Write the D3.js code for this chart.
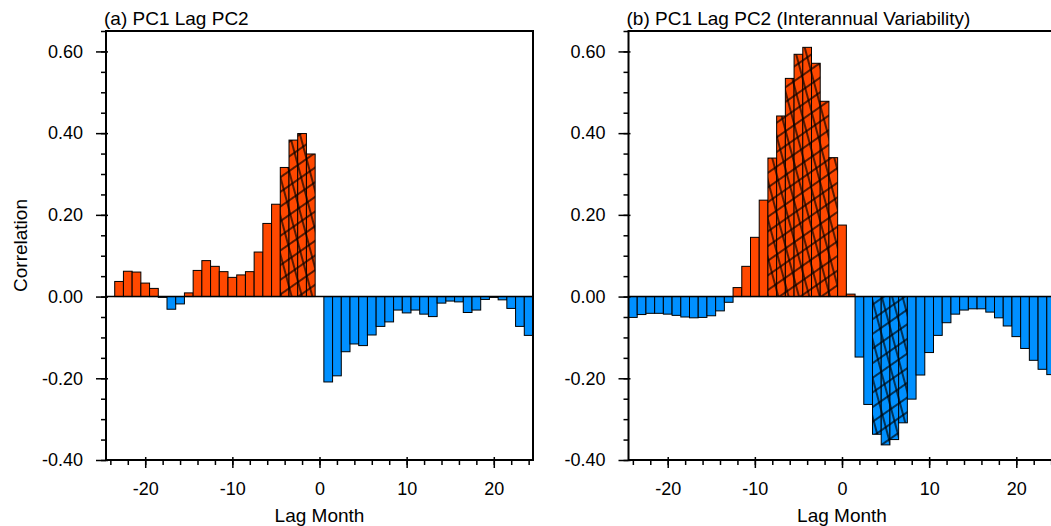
<!DOCTYPE html>
<html><head><meta charset="utf-8">
<script src="https://cdn.jsdelivr.net/npm/d3@7"></script>
<style>
body{margin:0;background:#fff}
svg{display:block}
text{font-family:"Liberation Sans",Arial,Helvetica,sans-serif;fill:#000}
</style>
</head><body>
<svg id="c" width="1051" height="526"></svg>
<script>
// ---- data ----
const lags = [-24,-23,-22,-21,-20,-19,-18,-17,-16,-15,-14,-13,-12,-11,-10,-9,-8,-7,-6,-5,-4,-3,-2,-1,0,
              1,2,3,4,5,6,7,8,9,10,11,12,13,14,15,16,17,18,19,20,21,22,23,24];
const corrA = [0.000,0.037,0.062,0.060,0.033,0.020,-0.002,-0.031,-0.018,0.009,0.064,0.088,0.074,0.061,0.047,0.053,0.061,0.109,0.179,0.226,0.316,0.383,0.399,0.349,0.000,
               -0.209,-0.194,-0.135,-0.116,-0.120,-0.094,-0.073,-0.062,-0.033,-0.040,-0.033,-0.043,-0.049,-0.016,-0.011,-0.013,-0.039,-0.033,-0.007,-0.002,-0.008,-0.029,-0.073,-0.095];
const corrB = [-0.051,-0.044,-0.041,-0.041,-0.043,-0.046,-0.050,-0.052,-0.051,-0.047,-0.035,-0.014,0.022,0.074,0.145,0.236,0.339,0.442,0.534,0.593,0.610,0.571,0.478,0.340,0.175,
               0.006,-0.148,-0.264,-0.337,-0.363,-0.350,-0.309,-0.251,-0.192,-0.137,-0.095,-0.064,-0.043,-0.033,-0.030,-0.030,-0.038,-0.052,-0.072,-0.098,-0.127,-0.156,-0.178,-0.191];
const sigLagsA = [-4,-3,-2,-1];
const sigLagsB = [-8,-7,-6,-5,-4,-3,-2,-1,4,5,6,7];
const yMajorTicks = [-0.4,-0.2,0.0,0.2,0.4,0.6];
const yMinorTicks = [-0.4,-0.35,-0.3,-0.25,-0.2,-0.15,-0.1,-0.05,0,0.05,0.1,0.15,0.2,0.25,0.3,0.35,0.4,0.45,0.5,0.55,0.6,0.65];
const xMajorTicks = [-20,-10,0,10,20];
const xMinorTicks = [-24,-22,-20,-18,-16,-14,-12,-10,-8,-6,-4,-2,0,2,4,6,8,10,12,14,16,18,20,22,24];
const titles = ["(a) PC1 Lag PC2","(b) PC1 Lag PC2 (Interannual Variability)"];
const yLabel = "Correlation";
const xLabel = "Lag Month";

const posColor = "#ff4800", negColor = "#0090ff";

const svg = d3.select("#c");
const defs = svg.append("defs");
function hatch(id, angle, spacing, vertical){
  const p = defs.append("pattern").attr("id",id).attr("patternUnits","userSpaceOnUse")
    .attr("width",spacing).attr("height",spacing)
    .attr("patternTransform",`rotate(${angle})`);
  if(vertical) p.append("line").attr("x1",spacing/2).attr("x2",spacing/2).attr("y1",0).attr("y2",spacing);
  else p.append("line").attr("y1",spacing/2).attr("y2",spacing/2).attr("x1",0).attr("x2",spacing);
  p.select("line").attr("stroke","#000").attr("stroke-width",1.3);
}
hatch("hA",-15,10,true);
hatch("hB",-35,12,false);

const panels = [
  {x0:106, data:corrA, sig:sigLagsA, title:titles[0], ylab:true},
  {x0:628.5, data:corrB, sig:sigLagsB, title:titles[1], ylab:false}
];
const W = 427, yTop = 31, yBottom = 460;

panels.forEach(P=>{
  const x = d3.scaleLinear().domain([-24.5,24.5]).range([P.x0,P.x0+W]);
  const y = d3.scaleLinear().domain([-0.40,0.65]).range([yBottom,yTop]);
  const g = svg.append("g");
  const rows = lags.map((l,i)=>({lag:l,v:P.data[i],sig:P.sig.includes(l)}));
  const bw = x(0.5)-x(-0.5);
  const bars = g.append("g").selectAll("g").data(rows.filter(d=>d.v!==0)).join("g");
  const rectAttrs = sel => sel.attr("x",d=>x(d.lag-0.5)).attr("width",bw)
      .attr("y",d=>y(Math.max(d.v,0))).attr("height",d=>Math.abs(y(d.v)-y(0)));
  bars.append("rect").call(rectAttrs).attr("fill",d=>d.v>=0?posColor:negColor);
  bars.filter(d=>d.sig).append("rect").call(rectAttrs).attr("fill","url(#hA)");
  bars.filter(d=>d.sig).append("rect").call(rectAttrs).attr("fill","url(#hB)");
  bars.append("rect").call(rectAttrs).attr("fill","none").attr("stroke","#000").attr("stroke-width",1);

  // zero line
  g.append("line").attr("x1",x.range()[0]).attr("x2",x.range()[1]).attr("y1",y(0)).attr("y2",y(0))
    .attr("stroke","#000").attr("stroke-width",1.5);

  // y axis
  const ya = g.append("g").attr("transform",`translate(${P.x0},0)`)
    .call(d3.axisLeft(y).tickValues(yMajorTicks).tickSizeInner(9).tickSizeOuter(0).tickPadding(14).tickFormat(d=>d.toFixed(2)));
  const ym = g.append("g").attr("transform",`translate(${P.x0},0)`)
    .call(d3.axisLeft(y).tickValues(yMinorTicks).tickSizeInner(5).tickSizeOuter(0).tickFormat(""));
  // x axis
  const xa = g.append("g").attr("transform",`translate(0,${yBottom})`)
    .call(d3.axisBottom(x).tickValues(xMajorTicks).tickSizeInner(8).tickSizeOuter(0).tickFormat(d=>String(d)));
  const xm = g.append("g").attr("transform",`translate(0,${yBottom})`)
    .call(d3.axisBottom(x).tickValues(xMinorTicks).tickSizeInner(5).tickSizeOuter(0).tickFormat(""));
  [ya,ym,xa,xm].forEach(a=>{a.select(".domain").remove(); a.selectAll("line").attr("stroke-width",1.5); a.attr("font-family",null);});
  ya.selectAll("line").attr("x2",-10).attr("x1",2);
  xa.selectAll("line").attr("y1",-3);
  ya.selectAll("text").attr("font-size",18);
  xa.selectAll("text").attr("font-size",18).attr("dy",null).attr("y",35);

  // frame
  g.append("rect").attr("x",P.x0).attr("y",yTop).attr("width",W).attr("height",yBottom-yTop)
    .attr("fill","none").attr("stroke","#000").attr("stroke-width",2);

  g.append("text").attr("x",P.x0-2).attr("y",25).attr("font-size",19).text(P.title);
  g.append("text").attr("x",x(0)).attr("y",522).attr("text-anchor","middle").attr("font-size",19).text(xLabel);
  if(P.ylab) g.append("text").attr("transform",`translate(27,${(yTop+yBottom)/2}) rotate(-90)`)
    .attr("text-anchor","middle").attr("font-size",19).text(yLabel);
});
</script>
</body></html>
